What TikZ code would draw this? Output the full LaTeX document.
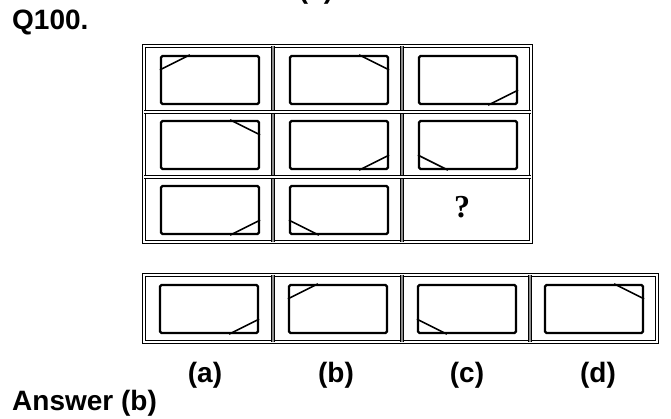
\documentclass[tikz,border=0pt]{standalone}
\usepackage{fontspec}
\setmainfont{Liberation Sans}
\newfontfamily\qfont{Liberation Serif}
\usetikzlibrary{calc}
\begin{document}
\begin{tikzpicture}[x=1pt,y=-1pt,
  innerbox/.style={draw, line width=2.2pt, rounded corners=1.5pt, minimum width=98pt, minimum height=48pt, inner sep=0pt},
  cut/.style={line width=1.6pt},
  frame/.style={double, double distance=1.8pt, line width=1.1pt},
  divider/.style={double=black!45, double distance=1.6pt, line width=1.1pt},
  lbl/.style={font=\fontsize{28}{30}\selectfont\bfseries, inner sep=0pt}]
\useasboundingbox (0,0) rectangle (671,419);
\newcommand\cutTL[1]{\draw[cut] ($(#1.north west)+(30,0)$) -- ($(#1.north west)+(0,15)$);}
\newcommand\cutTR[1]{\draw[cut] ($(#1.north east)+(-30,0)$) -- ($(#1.north east)+(0,15)$);}
\newcommand\cutBR[1]{\draw[cut] ($(#1.south east)+(-30,0)$) -- ($(#1.south east)+(0,-15)$);}
\newcommand\cutBL[1]{\draw[cut] ($(#1.south west)+(30,0)$) -- ($(#1.south west)+(0,-15)$);}

% cropped label at the very top
\node[lbl, anchor=base] (topc) at (316,-1) {(c)};
\node[lbl, anchor=base west] (q) at (12,30) {Q100.};

% question grid
\draw[frame] (144,46) rectangle (531,242);
\draw[divider] (273,46) -- (273,242);
\draw[divider] (402,46) -- (402,242);
\draw[frame] (144,112) -- (531,112);
\draw[frame] (144,177) -- (531,177);

\node[innerbox] (g11) at (210,80) {};
\node[innerbox] (g12) at (339,80) {};
\node[innerbox] (g13) at (468,80) {};
\node[innerbox] (g21) at (210,145) {};
\node[innerbox] (g22) at (339,145) {};
\node[innerbox] (g23) at (468,145) {};
\node[innerbox] (g31) at (210,210) {};
\node[innerbox] (g32) at (339,210) {};
\node[font=\qfont\bfseries\fontsize{32}{34}\selectfont, inner sep=0pt] (g33) at (462,207) {?};

\cutTL{g11}
\cutTR{g12}
\cutBR{g13}
\cutTR{g21}
\cutBR{g22}
\cutBL{g23}
\cutBR{g31}
\cutBL{g32}

% option strip
\draw[frame] (144,275) rectangle (657,342);
\draw[divider] (273,275) -- (273,342);
\draw[divider] (402,275) -- (402,342);
\draw[divider] (530,275) -- (530,342);

\node[innerbox] (oa) at (209,309) {};
\node[innerbox] (ob) at (338,309) {};
\node[innerbox] (oc) at (467,309) {};
\node[innerbox] (od) at (594,309) {};
\cutBR{oa}
\cutTL{ob}
\cutBL{oc}
\cutTR{od}

\node[lbl, anchor=base] (la) at (205,382) {(a)};
\node[lbl, anchor=base] (lb) at (336,382) {(b)};
\node[lbl, anchor=base] (lc) at (467,382) {(c)};
\node[lbl, anchor=base] (ld) at (598,382) {(d)};

\node[lbl, anchor=base west] (ans) at (12,410) {Answer (b)};
\end{tikzpicture}
\end{document}
